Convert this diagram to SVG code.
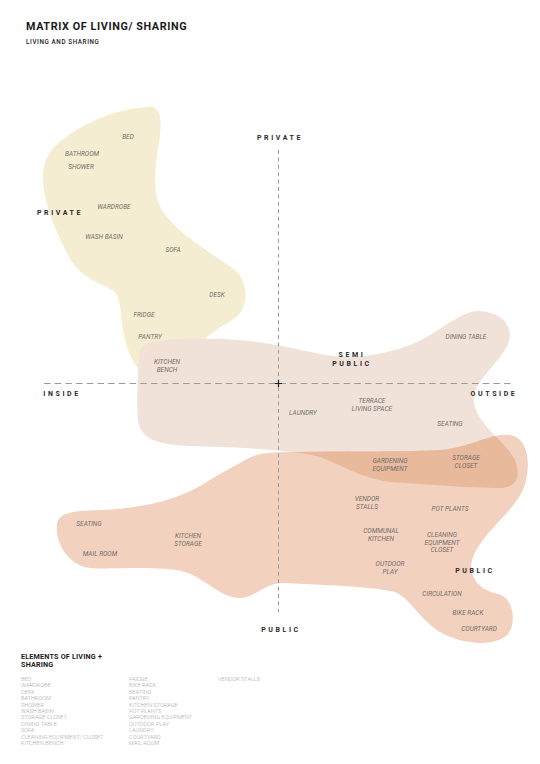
<svg xmlns="http://www.w3.org/2000/svg" width="540" height="764" viewBox="0 0 540 764">
<style>
.t{font-family:Roboto,"Liberation Sans",sans-serif;fill:#1a1a1a}
.ax{font-family:Roboto,"Liberation Sans",sans-serif;font-weight:700;font-size:7px;letter-spacing:2.6px;fill:#2a2a2a;text-anchor:middle}
.lb{font-family:Roboto,"Liberation Sans",sans-serif;font-style:italic;font-size:6.5px;fill:#736d69;text-anchor:middle}
.lg{font-family:Roboto,"Liberation Sans",sans-serif;font-weight:300;font-size:5.6px;fill:#a8a8a8}
.axis{stroke:#9a9a9a;stroke-width:1;fill:none}
</style>
<defs>
<path id="pubShape" d="M 240 463 C 255 452 270 452 300 452 C 350 451 410 452 440 450 C 470 448 490 433 510 435 C 530 438 532 470 522 492 C 510 515 480 535 472 560 C 468 578 480 590 498 594 C 515 598 516 625 508 634 C 495 648 460 644 440 632 C 420 620 410 598 395 592 C 370 586 320 585 285 583 C 265 582 255 598 240 598 C 220 598 205 578 185 572 C 160 565 110 570 90 568 C 70 566 55 545 57 525 C 58 513 70 511 100 510 C 150 508 180 498 205 483 C 220 474 230 468 240 463 Z"/>
<path id="semiShape" d="M 140 352 C 140 340 170 338 220 339 C 260 340 290 348 320 354 C 350 360 380 356 410 345 C 440 333 460 310 480 311 C 495 312 510 320 510 335 C 510 355 478 375 474 395 C 470 420 505 440 515 460 C 522 478 515 488 500 488 C 470 488 420 484 390 482 C 360 478 340 464 320 457 C 300 451 240 447 190 446 C 160 445 140 440 138 420 C 136 400 138 370 140 352 Z"/>
<clipPath id="pubClip"><use href="#pubShape"/></clipPath>
</defs>
<rect width="540" height="764" fill="#ffffff"/>
<g id="title">
<text class="t" x="26" y="30" font-size="10.8" font-weight="700" letter-spacing="0.6">MATRIX OF LIVING/ SHARING</text>
<text class="t" x="26" y="43.5" font-size="6.3" font-weight="500" letter-spacing="0.6" fill="#2a2a2a">LIVING AND SHARING</text>
</g>
<g id="private-zone">
<path d="M 148 107 C 160 105 162 118 160 135 C 157 160 150 190 162 210 C 178 235 215 255 235 270 C 250 283 248 310 235 318 C 220 328 205 335 195 350 C 185 365 175 378 160 378 C 140 378 130 360 125 340 C 120 320 122 300 115 292 C 105 284 80 280 68 255 C 55 230 42 200 43 175 C 44 155 55 145 65 138 C 85 122 120 108 148 107 Z" fill="#f5edd2"/>
</g>
<g id="semi-public-zone">
<use href="#semiShape" fill="#f0e0d6" fill-opacity="0.92"/>
</g>
<g id="public-zone">
<use href="#pubShape" fill="#f3d1bf"/>
<use href="#semiShape" fill="#e9b99c" clip-path="url(#pubClip)"/>
</g>
<g id="connectors">
<line class="axis" x1="278.5" y1="150" x2="278.5" y2="612" stroke-dasharray="4 3.4"/>
<line class="axis" x1="44" y1="383.5" x2="514" y2="383.5" stroke-dasharray="6.5 4.2"/>
<path d="M 275 383.5 H 282 M 278.5 380 V 387" stroke="#222" stroke-width="1.2"/>
</g>
<g id="axis-labels">
<text class="ax" x="280" y="140">PRIVATE</text>
<text class="ax" x="60" y="214.5">PRIVATE</text>
<text class="ax" x="62" y="395.5">INSIDE</text>
<text class="ax" x="494" y="395.5">OUTSIDE</text>
<text class="ax" x="352" y="356.5">SEMI</text>
<text class="ax" x="352" y="365.5">PUBLIC</text>
<text class="ax" x="475" y="572.5">PUBLIC</text>
<text class="ax" x="281" y="631.5">PUBLIC</text>
</g>
<g id="private-labels">
<text class="lb" x="128" y="139">BED</text>
<text class="lb" x="82" y="156">BATHROOM</text>
<text class="lb" x="81" y="169">SHOWER</text>
<text class="lb" x="114" y="209">WARDROBE</text>
<text class="lb" x="104" y="239">WASH BASIN</text>
<text class="lb" x="173" y="252">SOFA</text>
<text class="lb" x="217" y="297">DESK</text>
<text class="lb" x="144" y="317">FRIDGE</text>
<text class="lb" x="150" y="339">PANTRY</text>
<text class="lb" x="167" y="364">KITCHEN</text>
<text class="lb" x="167" y="371.5">BENCH</text>
</g>
<g id="semi-public-labels">
<text class="lb" x="466" y="339">DINING TABLE</text>
<text class="lb" x="372" y="403">TERRACE</text>
<text class="lb" x="372" y="411">LIVING SPACE</text>
<text class="lb" x="303" y="415">LAUNDRY</text>
<text class="lb" x="450" y="426">SEATING</text>
<text class="lb" x="390" y="463">GARDENING</text>
<text class="lb" x="390" y="471">EQUIPMENT</text>
<text class="lb" x="466" y="460">STORAGE</text>
<text class="lb" x="466" y="468">CLOSET</text>
</g>
<g id="public-labels">
<text class="lb" x="367" y="501">VENDOR</text>
<text class="lb" x="367" y="509">STALLS</text>
<text class="lb" x="450" y="511">POT PLANTS</text>
<text class="lb" x="89" y="526">SEATING</text>
<text class="lb" x="188" y="538">KITCHEN</text>
<text class="lb" x="188" y="546">STORAGE</text>
<text class="lb" x="100" y="556">MAIL ROOM</text>
<text class="lb" x="381" y="533">COMMUNAL</text>
<text class="lb" x="381" y="541">KITCHEN</text>
<text class="lb" x="442" y="537">CLEANING</text>
<text class="lb" x="442" y="544.5">EQUIPMENT</text>
<text class="lb" x="442" y="552">CLOSET</text>
<text class="lb" x="390" y="566">OUTDOOR</text>
<text class="lb" x="390" y="573.5">PLAY</text>
<text class="lb" x="442" y="596">CIRCULATION</text>
<text class="lb" x="468" y="615">BIKE RACK</text>
<text class="lb" x="479" y="631">COURTYARD</text>
</g>
<g id="legend">
<text class="t" x="21" y="658.5" font-size="7.2" font-weight="700" letter-spacing="0.2">ELEMENTS OF LIVING +</text>
<text class="t" x="21" y="666.5" font-size="7.2" font-weight="700" letter-spacing="0.2">SHARING</text>
<g class="lg">
<text x="21" y="681">BED</text>
<text x="21" y="687.4">WARDROBE</text>
<text x="21" y="693.8">DESK</text>
<text x="21" y="700.2">BATHROOM</text>
<text x="21" y="706.6">SHOWER</text>
<text x="21" y="713">WASH BASIN</text>
<text x="21" y="719.4">STORAGE CLOSET</text>
<text x="21" y="725.8">DINING TABLE</text>
<text x="21" y="732.2">SOFA</text>
<text x="21" y="738.6">CLEANING EQUIPMENT/ CLOSET</text>
<text x="21" y="745">KITCHEN BENCH</text>
<text x="129" y="681">FRIDGE</text>
<text x="129" y="687.4">BIKE RACK</text>
<text x="129" y="693.8">SEATING</text>
<text x="129" y="700.2">PANTRY</text>
<text x="129" y="706.6">KITCHEN STORAGE</text>
<text x="129" y="713">POT PLANTS</text>
<text x="129" y="719.4">GARDENING EQUIPMENT</text>
<text x="129" y="725.8">OUTDOOR PLAY</text>
<text x="129" y="732.2">LAUNDRY</text>
<text x="129" y="738.6">COURTYARD</text>
<text x="129" y="745">MAIL ROOM</text>
<text x="218" y="681">VENDOR STALLS</text>
</g>
</g>
</svg>
